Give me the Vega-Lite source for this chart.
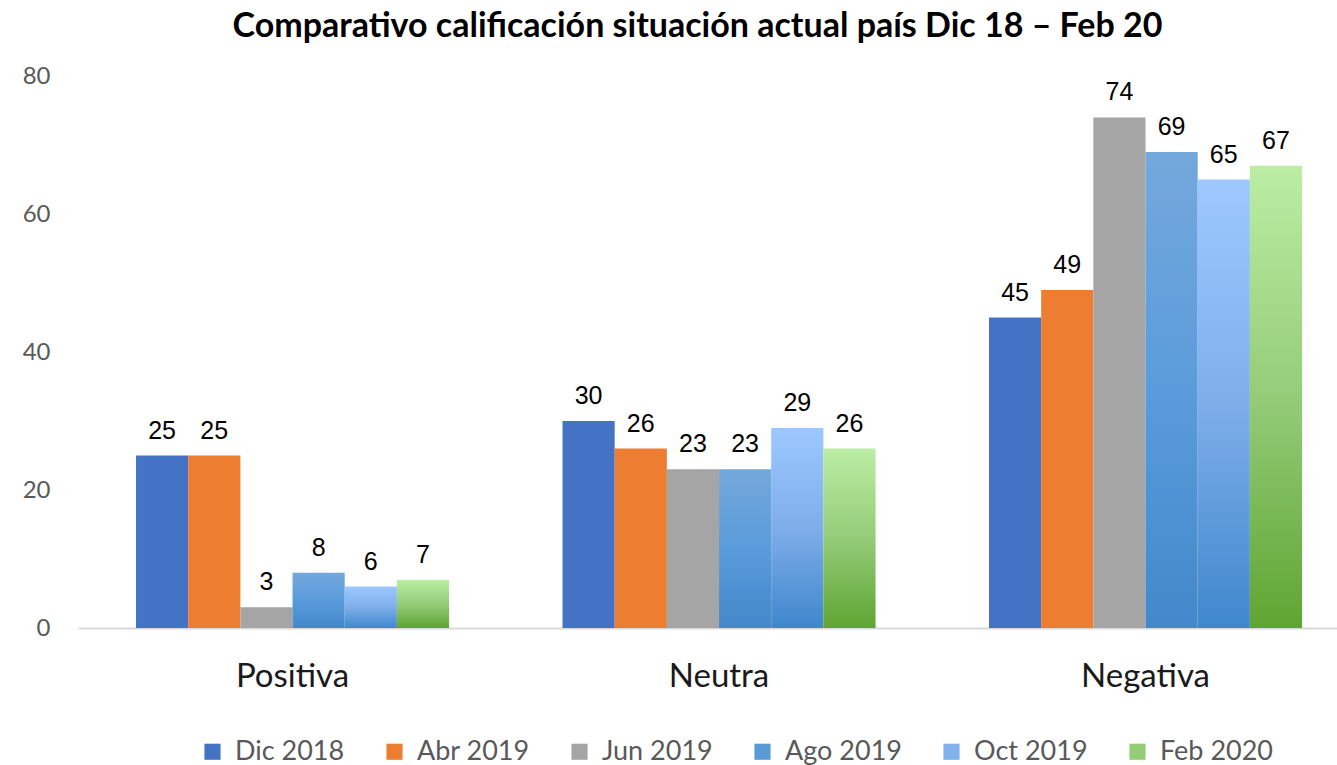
{
  "$schema": "https://vega.github.io/schema/vega-lite/v6.json",
  "width": 1259,
  "height": 552,
  "autosize": {"type": "none"},
  "padding": {"left": 78, "top": 76, "right": 0, "bottom": 137},
  "background": "white",
  "config": {"view": {"stroke": null}},
  "title": {
    "text": "Comparativo calificación situación actual país Dic 18 – Feb 20",
    "font": "Lato",
    "fontSize": 34,
    "fontWeight": "bold",
    "color": "#000000",
    "anchor": "middle",
    "dx": -10,
    "offset": 20
  },
  "data": {
    "values": [
      {"cat": "Positiva", "serie": "Dic 2018", "valor": 25},
      {"cat": "Positiva", "serie": "Abr 2019", "valor": 25},
      {"cat": "Positiva", "serie": "Jun 2019", "valor": 3},
      {"cat": "Positiva", "serie": "Ago 2019", "valor": 8},
      {"cat": "Positiva", "serie": "Oct 2019", "valor": 6},
      {"cat": "Positiva", "serie": "Feb 2020", "valor": 7},
      {"cat": "Neutra", "serie": "Dic 2018", "valor": 30},
      {"cat": "Neutra", "serie": "Abr 2019", "valor": 26},
      {"cat": "Neutra", "serie": "Jun 2019", "valor": 23},
      {"cat": "Neutra", "serie": "Ago 2019", "valor": 23},
      {"cat": "Neutra", "serie": "Oct 2019", "valor": 29},
      {"cat": "Neutra", "serie": "Feb 2020", "valor": 26},
      {"cat": "Negativa", "serie": "Dic 2018", "valor": 45},
      {"cat": "Negativa", "serie": "Abr 2019", "valor": 49},
      {"cat": "Negativa", "serie": "Jun 2019", "valor": 74},
      {"cat": "Negativa", "serie": "Ago 2019", "valor": 69},
      {"cat": "Negativa", "serie": "Oct 2019", "valor": 65},
      {"cat": "Negativa", "serie": "Feb 2020", "valor": 67}
    ]
  },
  "encoding": {
    "x": {
      "field": "cat",
      "type": "nominal",
      "sort": ["Positiva", "Neutra", "Negativa"],
      "scale": {"paddingInner": 0.266, "paddingOuter": 0.109, "align": 0.624},
      "axis": {
        "title": null,
        "labelAngle": 0,
        "labelFont": "Lato",
        "labelFontSize": 33,
        "labelColor": "#1a1a1a",
        "labelPadding": 32,
        "ticks": false,
        "domainColor": "#d9d9d9",
        "domainWidth": 2
      }
    },
    "xOffset": {
      "field": "serie",
      "type": "nominal",
      "sort": ["Dic 2018", "Abr 2019", "Jun 2019", "Ago 2019", "Oct 2019", "Feb 2020"],
      "scale": {"paddingInner": 0, "paddingOuter": 0}
    },
    "y": {
      "field": "valor",
      "type": "quantitative",
      "scale": {"domain": [0, 80]},
      "axis": {
        "title": null,
        "values": [0, 20, 40, 60, 80],
        "grid": false,
        "domain": false,
        "ticks": false,
        "labelFont": "Lato",
        "labelFontSize": 24,
        "labelColor": "#595959",
        "labelPadding": 28
      }
    }
  },
  "layer": [
    {
      "mark": {"type": "bar", "strokeWidth": 0},
      "encoding": {
        "fill": {
          "condition": [
            {"test": "datum.serie === 'Ago 2019'", "value": {"gradient": "linear", "x1": 0, "y1": 0, "x2": 0, "y2": 1, "stops": [{"offset": 0, "color": "#74a8dc"}, {"offset": 0.5, "color": "#5a9cdb"}, {"offset": 1, "color": "#4388ca"}]}},
            {"test": "datum.serie === 'Oct 2019'", "value": {"gradient": "linear", "x1": 0, "y1": 0, "x2": 0, "y2": 1, "stops": [{"offset": 0, "color": "#9dc8ff"}, {"offset": 0.5, "color": "#7eaeea"}, {"offset": 1, "color": "#3f88cc"}]}},
            {"test": "datum.serie === 'Feb 2020'", "value": {"gradient": "linear", "x1": 0, "y1": 0, "x2": 0, "y2": 1, "stops": [{"offset": 0, "color": "#bbeea4"}, {"offset": 0.5, "color": "#94cc78"}, {"offset": 1, "color": "#5fa532"}]}}
          ],
          "field": "serie",
          "type": "nominal",
          "sort": ["Dic 2018", "Abr 2019", "Jun 2019", "Ago 2019", "Oct 2019", "Feb 2020"],
          "scale": {
            "domain": ["Dic 2018", "Abr 2019", "Jun 2019", "Ago 2019", "Oct 2019", "Feb 2020"],
            "range": ["#4472c4", "#ed7d31", "#a5a5a5", "#5b9bd5", "#80b2ee", "#94cc78"]
          },
          "legend": {
            "title": null,
            "orient": "none",
            "direction": "horizontal",
            "columns": 6,
            "legendX": 121,
            "legendY": 662,
            "symbolType": "square",
            "symbolSize": 260,
            "symbolStrokeWidth": 0,
            "symbolOpacity": 1,
            "labelFont": "Lato",
            "labelFontSize": 27,
            "labelColor": "#595959",
            "labelOffset": 9,
            "columnPadding": 36,
            "labelLimit": 300
          }
        }
      }
    },
    {
      "mark": {
        "type": "text",
        "baseline": "bottom",
        "dy": -12,
        "font": "Liberation Sans",
        "fontSize": 25,
        "color": "#000000"
      },
      "encoding": {
        "text": {"field": "valor", "type": "quantitative"}
      }
    }
  ]
}
